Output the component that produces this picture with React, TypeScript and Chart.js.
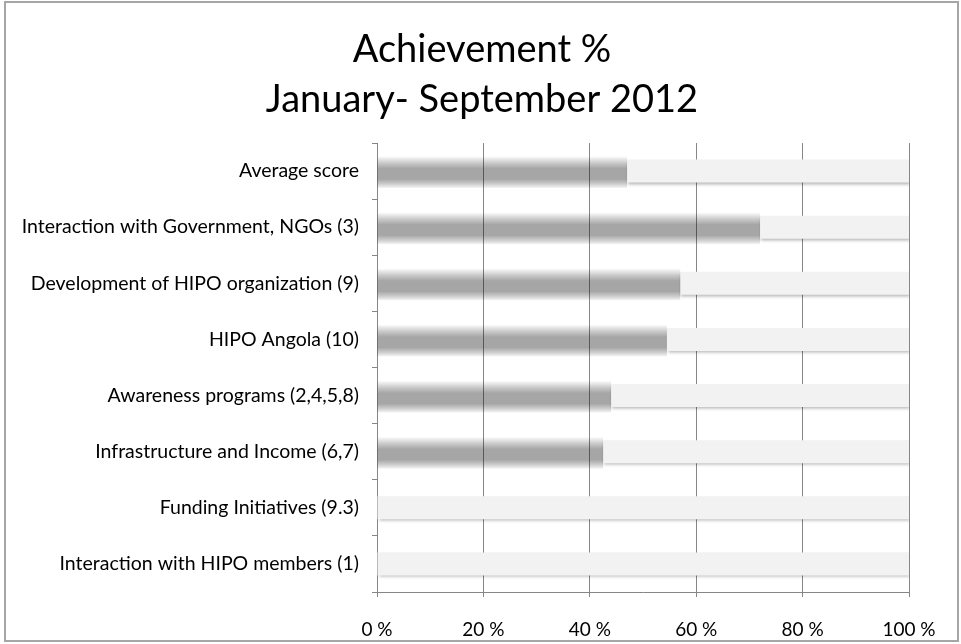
import React, { useEffect, useRef } from "react";
import { Chart, registerables } from "chart.js";

Chart.register(...registerables);

const TITLE_LINES = ["Achievement %", "January- September 2012"];

const CATEGORIES = [
  "Average score",
  "Interaction with Government, NGOs (3)",
  "Development of HIPO organization (9)",
  "HIPO Angola (10)",
  "Awareness programs (2,4,5,8)",
  "Infrastructure and Income (6,7)",
  "Funding Initiatives (9.3)",
  "Interaction with HIPO members (1)",
];

const ACHIEVED = [47, 72, 57, 54.5, 44, 42.5, 0, 0];
const REMAINING = [53, 28, 43, 45.5, 56, 57.5, 100, 100];

const X_TICKS = [0, 20, 40, 60, 80, 100];

const FONT = "Lato, 'Open Sans', sans-serif";
const AXIS_GREY = "#868686";

const PLOT_LEFT = 377;
const PLOT_TOP = 143;
const PAD_RIGHT = 52;
const TITLE_CENTER_X = 482;
const TITLE_FIRST_Y = 50;
const TITLE_LINE_GAP = 50;

const titlePlugin = {
  id: "centredTitle",
  afterDraw(chart: any) {
    const c = chart.ctx;
    c.save();
    c.font = `normal 38px ${FONT}`;
    c.fillStyle = "#000";
    c.textAlign = "center";
    c.textBaseline = "middle";
    TITLE_LINES.forEach((line, i) => {
      c.fillText(line, TITLE_CENTER_X, TITLE_FIRST_Y + i * TITLE_LINE_GAP);
    });
    c.restore();
  },
};

const shadowPlugin = {
  id: "barShadow",
  beforeDatasetDraw(chart: any, args: any) {
    if (args.index === 1) {
      const c = chart.ctx;
      c.save();
      c.shadowColor = "rgba(0,0,0,0.28)";
      c.shadowBlur = 3;
      c.shadowOffsetX = 1;
      c.shadowOffsetY = 2;
    }
  },
  afterDatasetDraw(chart: any, args: any) {
    if (args.index === 1) chart.ctx.restore();
  },
};

function darkFill(ctx: any) {
  const chart = ctx.chart;
  const ys = chart.scales && chart.scales.y;
  if (!ys || ctx.dataIndex == null || !chart.chartArea) return "rgba(0,0,0,0.35)";
  const c = ys.getPixelForValue(ctx.dataIndex) + 1.5;
  const half = 16.5;
  const g = chart.ctx.createLinearGradient(0, c - half, 0, c + half);
  g.addColorStop(0, "rgba(0,0,0,0)");
  g.addColorStop(0.2, "rgba(0,0,0,0.2)");
  g.addColorStop(0.38, "rgba(0,0,0,0.35)");
  g.addColorStop(0.7, "rgba(0,0,0,0.35)");
  g.addColorStop(0.86, "rgba(0,0,0,0.18)");
  g.addColorStop(1, "rgba(0,0,0,0)");
  return g;
}

export default function App() {
  const ref = useRef<HTMLCanvasElement | null>(null);

  useEffect(() => {
    if (!ref.current) return;
    const chart = new Chart(ref.current, {
      type: "bar",
      data: {
        labels: CATEGORIES,
        datasets: [
          {
            label: "Achieved",
            data: ACHIEVED,
            backgroundColor: darkFill as any,
            borderWidth: 0,
            barPercentage: 34 / 56,
            categoryPercentage: 1,
          },
          {
            label: "Remaining",
            data: REMAINING,
            backgroundColor: "#f2f2f2",
            borderWidth: 0,
            barPercentage: 23 / 56,
            categoryPercentage: 1,
          },
        ],
      },
      options: {
        indexAxis: "y",
        responsive: false,
        animation: false,
        layout: { padding: { left: 0, right: PAD_RIGHT, top: PLOT_TOP, bottom: 0 } },
        plugins: {
          legend: { display: false },
          tooltip: { enabled: false },
          title: { display: false },
        },
        scales: {
          x: {
            stacked: true,
            min: 0,
            max: 100,
            afterBuildTicks: (s: any) => {
              s.ticks = X_TICKS.map((v) => ({ value: v }));
            },
            afterFit: (s: any) => {
              s.height = 52;
            },
            ticks: {
              color: "#000",
              font: { family: FONT, size: 19 },
              padding: 21,
              maxRotation: 0,
              callback: (v: any) => `${v} %`,
            },
            grid: { color: AXIS_GREY, lineWidth: 1, tickLength: 5 },
            border: { color: AXIS_GREY, width: 1 },
          },
          y: {
            stacked: true,
            afterFit: (s: any) => {
              s.width = PLOT_LEFT;
            },
            ticks: {
              color: "#000",
              font: { family: FONT, size: 19.5 },
              padding: 13,
            },
            grid: {
              drawOnChartArea: false,
              drawTicks: true,
              tickLength: 5,
              offset: true,
              color: AXIS_GREY,
            },
            border: { color: AXIS_GREY, width: 1 },
          },
        },
      },
      plugins: [shadowPlugin, titlePlugin],
    } as any);
    return () => chart.destroy();
  }, []);

  return (
    <div
      style={{
        position: "fixed",
        left: 0,
        top: 0,
        width: 961,
        height: 644,
        background: "#fff",
      }}
    >
      <canvas ref={ref} width={961} height={644} style={{ position: "absolute", left: 0, top: 0 }} />
      <div
        style={{
          position: "absolute",
          left: 4,
          top: 1,
          width: 955,
          height: 641,
          border: "2px solid #a6a6a6",
          boxSizing: "border-box",
          pointerEvents: "none",
        }}
      />
    </div>
  );
}
